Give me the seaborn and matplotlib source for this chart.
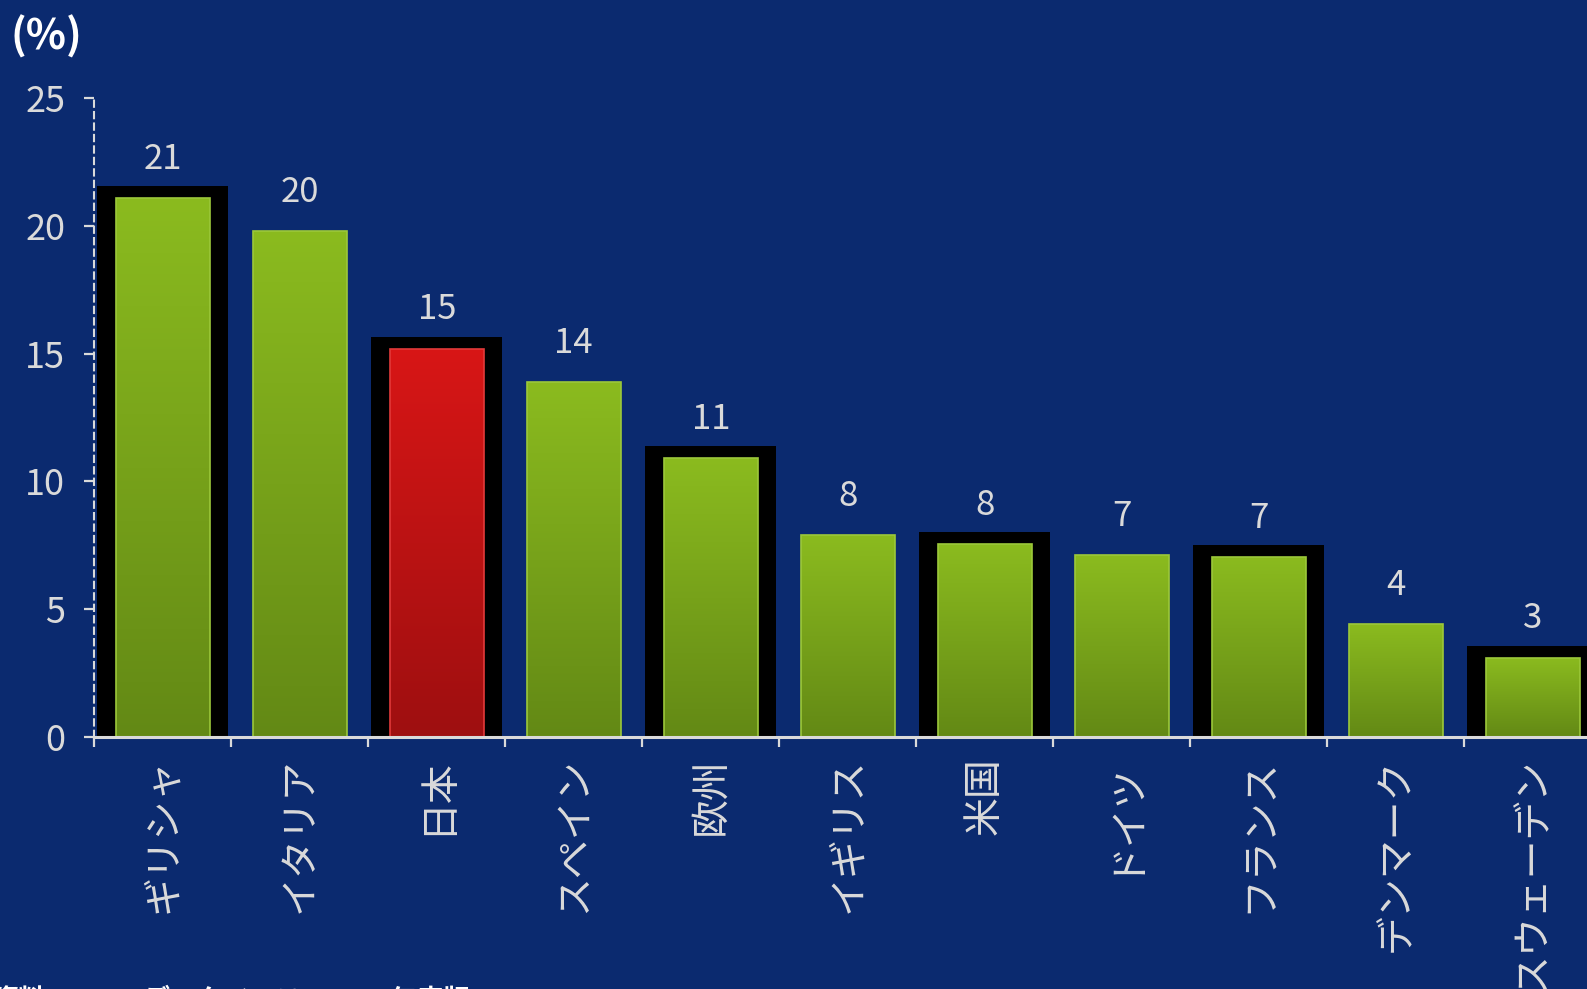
import numpy as np
import matplotlib
matplotlib.use("Agg")
import matplotlib.pyplot as plt
from matplotlib.colors import LinearSegmentedColormap
import seaborn as sns

# Share of ... by country (%)
countries = ["ギリシャ", "イタリア", "日本", "スペイン", "欧州", "イギリス",
             "米国", "ドイツ", "フランス", "デンマーク", "スウェーデン"]
values = [21.1, 19.8, 15.2, 13.9, 10.9, 7.9, 7.55, 7.1, 7.05, 4.4, 3.1]
framed = ["ギリシャ", "日本", "欧州", "米国", "フランス", "スウェーデン"]
highlight = "日本"
y_ticks = [0, 5, 10, 15, 20, 25]
unit_label = "(%)"
source_note = "資料：OECDデータベース、2005年度版"

BG = "#0B2A6F"
TXT = "#DADADA"
GREEN_TOP, GREEN_BOT = "#8BBB1F", "#638915"
RED_TOP, RED_BOT = "#D81616", "#9E0F10"

sns.set_theme(style="white", rc={"figure.facecolor": BG, "axes.facecolor": BG})
plt.rcParams["font.family"] = ["Noto Sans CJK JP", "DejaVu Sans"]

W, H = 1587, 989
fig = plt.figure(figsize=(W / 100, H / 100), dpi=100)
x0, y0, y25, step = 94.3, 736.7, 98.3, 137.0
ax = fig.add_axes([x0 / W, (H - y0) / H, step * len(countries) / W, (y0 - y25) / H])
ax.set_facecolor(BG)

palette = {c: (RED_TOP if c == highlight else GREEN_TOP) for c in countries}
sns.barplot(x=countries, y=values, hue=countries, palette=palette, width=0.686,
            saturation=1, legend=False, ax=ax, zorder=2)
bars = list(ax.patches)

# black frames behind the emphasised bars
pos = np.arange(len(countries))
fidx = [i for i, c in enumerate(countries) if c in framed]
fvals = np.array([values[i] for i in fidx])
ax.bar(pos[fidx], fvals + 0.47 + 0.16, bottom=-0.16, width=0.955,
       color="black", zorder=1, linewidth=0)

# vertical gradient fill for each bar
grad = np.linspace(0, 1, 256).reshape(-1, 1)
for c, p in zip(countries, bars):
    top, bot = (RED_TOP, RED_BOT) if c == highlight else (GREEN_TOP, GREEN_BOT)
    cmap = LinearSegmentedColormap.from_list("g", [bot, top])
    bx, bw, bh = p.get_x(), p.get_width(), p.get_height()
    im = ax.imshow(grad, extent=[bx, bx + bw, 0, bh], origin="lower",
                   cmap=cmap, aspect="auto", zorder=2.1, interpolation="bicubic")
    im.set_clip_path(p)
    p.set_edgecolor("#E23A3A" if c == highlight else "#9CC83A")
    p.set_linewidth(1.2)
    p.set_zorder(2.2)
    p.set_facecolor("none")

# value labels
for c, p, v in zip(countries, bars, values):
    ax.annotate(f"{v:.0f}", (p.get_x() + p.get_width() / 2, v),
                xytext=(0, 21), textcoords="offset points", ha="center",
                va="baseline", fontsize=25, color=TXT)

ax.set_xlim(-0.5, len(countries) - 0.5)
ax.set_ylim(0, 25)
ax.set_yticks(y_ticks)
ax.set_yticklabels([str(t) for t in y_ticks])

ax.set_xticks(np.arange(-0.5, len(countries), 1))
ax.set_xticklabels([])
ax.set_xticks(pos, minor=True)
ax.set_xticklabels(countries, minor=True, rotation=90, fontsize=28, color=TXT)
ax.tick_params(axis="x", which="major", direction="out", length=7, width=1.6,
               color=TXT, bottom=True)
ax.tick_params(axis="x", which="minor", length=0, pad=15, bottom=True)
ax.tick_params(axis="y", direction="out", length=7, width=1.6, color=TXT,
               labelsize=26, labelcolor=TXT, pad=14, left=True)

for s in ("top", "right"):
    ax.spines[s].set_visible(False)
ax.spines["left"].set_color(TXT)
ax.spines["left"].set_linewidth(1.5)
ax.spines["left"].set_linestyle((0, (3, 2.5)))
ax.spines["bottom"].set_color(TXT)
ax.spines["bottom"].set_linewidth(2.2)
ax.spines["bottom"].set_zorder(5)
ax.set_xlabel("")
ax.set_ylabel("")

fig.text(10 / W, 1 - 50 / H, unit_label, fontsize=30, fontweight="bold",
         color="white", ha="left", va="baseline")
fig.text(-8 / W, 1 - 1008 / H, source_note, fontsize=19, fontweight="bold",
         color="white", ha="left", va="baseline")

fig.savefig("out.png", dpi=100, facecolor=BG)
